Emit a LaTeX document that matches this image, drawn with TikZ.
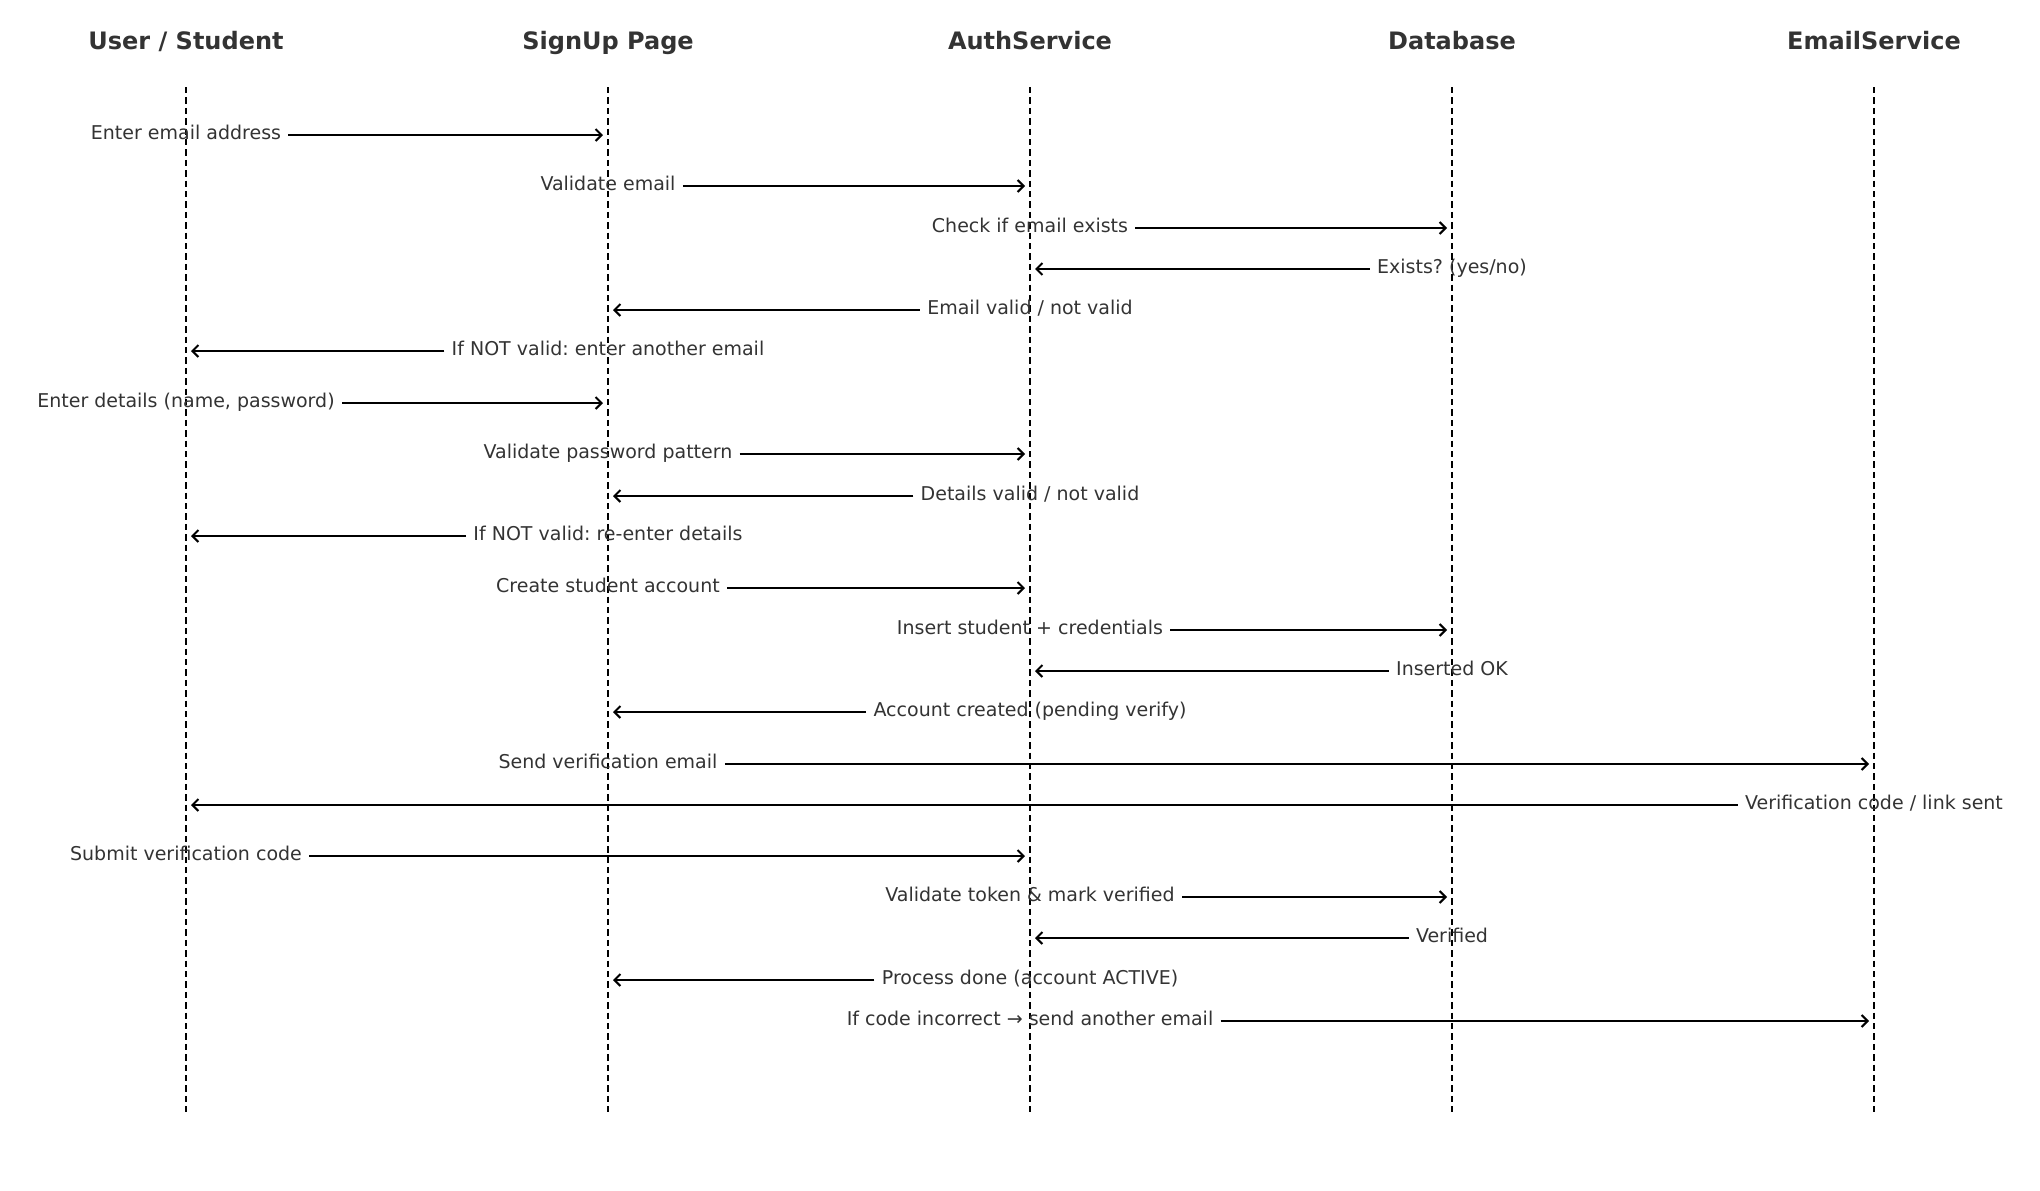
\documentclass[tikz,border=0pt]{standalone}
\usepackage{fontspec}
\setmainfont{DejaVu Sans}
\usetikzlibrary{arrows.meta}
\definecolor{txtgray}{HTML}{333333}
\frenchspacing

\begin{document}
\begin{tikzpicture}[
    x=0.5pt, y=-0.5pt,
    head/.style={font=\bfseries\fontsize{12}{14}\selectfont, text=txtgray, text height=9pt, text depth=2.8pt},
    msg/.style={font=\fontsize{9.5}{11}\selectfont, text=txtgray, inner xsep=3.5pt, inner ysep=1pt, text height=7pt, text depth=2.2pt},
    life/.style={draw=black, line width=0.9pt, dash pattern=on 3.2pt off 2pt},
    arrow/.style={-{Straight Barb[length=3pt, width=6pt, line width=1pt]}, line width=1pt, shorten >=2.5pt},
    >=latex
]
\useasboundingbox (0,0) rectangle (2040,1190);

% Participants
\node[head] (us) at (186,43) {User / Student};
\node[head] (sp) at (608,43) {SignUp Page};
\node[head] (as) at (1030,43) {AuthService};
\node[head] (db) at (1452,43) {Database};
\node[head] (es) at (1874,43) {EmailService};

% Lifelines
\coordinate (ust) at (186,87);  \coordinate (usb) at (186,1112);
\coordinate (spt) at (608,87);  \coordinate (spb) at (608,1112);
\coordinate (ast) at (1030,87); \coordinate (asb) at (1030,1112);
\coordinate (dbt) at (1452,87); \coordinate (dbb) at (1452,1112);
\coordinate (est) at (1874,87); \coordinate (esb) at (1874,1112);
\draw[life] (ust) -- (usb);
\draw[life] (spt) -- (spb);
\draw[life] (ast) -- (asb);
\draw[life] (dbt) -- (dbb);
\draw[life] (est) -- (esb);

% Email step
\node[msg] (m1) at (186,135) {Enter email address};
\draw[arrow] (m1.east) -- (m1 -| sp);
\node[msg] (m2) at (608,186) {Validate email};
\draw[arrow] (m2.east) -- (m2 -| as);
\node[msg] (m3) at (1030,228) {Check if email exists};
\draw[arrow] (m3.east) -- (m3 -| db);
\node[msg] (m4) at (1452,269) {Exists? (yes/no)};
\draw[arrow] (m4.west) -- (m4 -| as);
\node[msg] (m5) at (1030,310) {Email valid / not valid};
\draw[arrow] (m5.west) -- (m5 -| sp);
\node[msg] (m6) at (608,351) {If NOT valid: enter another email};
\draw[arrow] (m6.west) -- (m6 -| us);

% Details step
\node[msg] (m7) at (186,403) {Enter details (name, password)};
\draw[arrow] (m7.east) -- (m7 -| sp);
\node[msg] (m8) at (608,454) {Validate password pattern};
\draw[arrow] (m8.east) -- (m8 -| as);
\node[msg] (m9) at (1030,496) {Details valid / not valid};
\draw[arrow] (m9.west) -- (m9 -| sp);
\node[msg] (m10) at (608,536) {If NOT valid: re-enter details};
\draw[arrow] (m10.west) -- (m10 -| us);

% Account creation
\node[msg] (m11) at (608,588) {Create student account};
\draw[arrow] (m11.east) -- (m11 -| as);
\node[msg] (m12) at (1030,630) {Insert student + credentials};
\draw[arrow] (m12.east) -- (m12 -| db);
\node[msg] (m13) at (1452,671) {Inserted OK};
\draw[arrow] (m13.west) -- (m13 -| as);
\node[msg] (m14) at (1030,712) {Account created (pending verify)};
\draw[arrow] (m14.west) -- (m14 -| sp);

% Verification
\node[msg] (m15) at (608,764) {Send verification email};
\draw[arrow] (m15.east) -- (m15 -| es);
\node[msg] (m16) at (1874,805) {Verification code / link sent};
\draw[arrow] (m16.west) -- (m16 -| us);
\node[msg] (m17) at (186,856) {Submit verification code};
\draw[arrow] (m17.east) -- (m17 -| as);
\node[msg] (m18) at (1030,897) {Validate token \& mark verified};
\draw[arrow] (m18.east) -- (m18 -| db);
\node[msg] (m19) at (1452,938) {Verified};
\draw[arrow] (m19.west) -- (m19 -| as);
\node[msg] (m20) at (1030,980) {Process done (account ACTIVE)};
\draw[arrow] (m20.west) -- (m20 -| sp);
\node[msg] (m21) at (1030,1021) {If code incorrect → send another email};
\draw[arrow] (m21.east) -- (m21 -| es);

\end{tikzpicture}
\end{document}
